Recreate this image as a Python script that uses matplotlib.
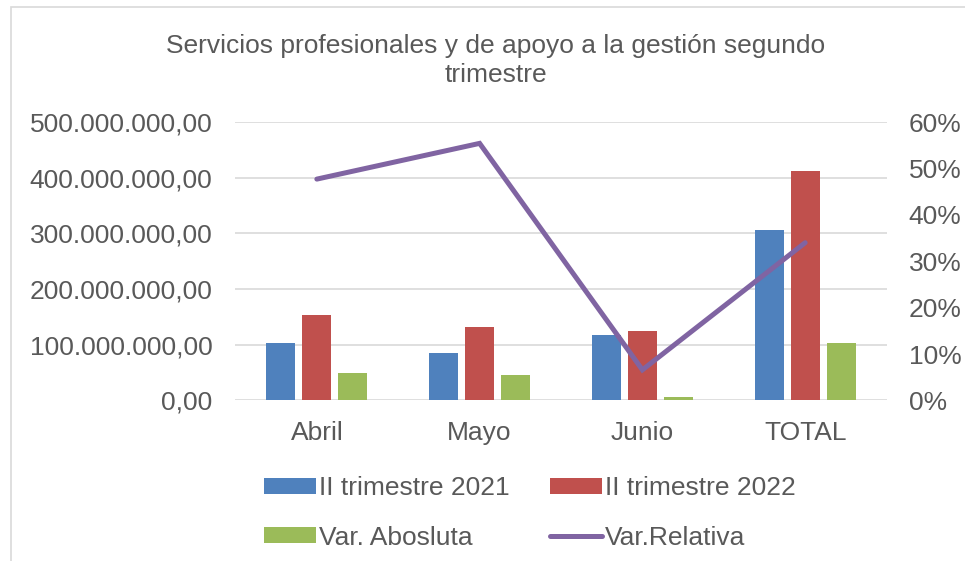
import numpy as np
import matplotlib.pyplot as plt
import matplotlib.ticker as mticker
from matplotlib.patches import Rectangle

plt.rcParams['font.family'] = ['Liberation Sans', 'DejaVu Sans']

# Datos
meses = ['Abril', 'Mayo', 'Junio', 'TOTAL']
trim_2021 = [102.7e6, 84.7e6, 117.0e6, 306.0e6]
trim_2022 = [153.0e6, 132.0e6, 124.8e6, 412.0e6]
var_absoluta = [48.8e6, 46.4e6, 7.0e6, 104.0e6]
var_relativa = [0.477, 0.554, 0.066, 0.340]

c_azul = '#4F81BD'
c_rojo = '#C0504D'
c_verde = '#9BBB59'
c_morado = '#8064A2'
c_texto = '#595959'
c_grid = '#D9D9D9'
tam = 19

fig = plt.figure(figsize=(9.65, 5.61), dpi=100)
ax = fig.add_axes([0.244, 0.2861, 0.6747, 0.4964])
ax2 = ax.twinx()

x = np.arange(len(meses))
ancho = 0.178
paso = 0.221
b1 = ax.bar(x - paso, trim_2021, ancho, color=c_azul, label='II trimestre 2021', zorder=2)
b2 = ax.bar(x, trim_2022, ancho, color=c_rojo, label='II trimestre 2022', zorder=2)
b3 = ax.bar(x + paso, var_absoluta, ancho, color=c_verde, label='Var. Abosluta', zorder=2)
l1, = ax2.plot(x, var_relativa, color=c_morado, linewidth=3.6, label='Var.Relativa',
               solid_capstyle='round', solid_joinstyle='miter')

ax.set_xlim(-0.5, 3.5)
ax.set_ylim(0, 500e6)
ax2.set_ylim(0, 0.6)
ax.yaxis.set_major_locator(mticker.MultipleLocator(100e6))
ax2.yaxis.set_major_locator(mticker.MultipleLocator(0.1))


def fmt_es(v, pos):
    s = f'{v:,.2f}'
    return s.replace(',', 'X').replace('.', ',').replace('X', '.')


ax.yaxis.set_major_formatter(mticker.FuncFormatter(fmt_es))
ax2.yaxis.set_major_formatter(mticker.PercentFormatter(1.0, decimals=0))

ax.set_xticks(x)
ax.set_xticklabels(meses)

for a in (ax, ax2):
    for s in a.spines.values():
        s.set_visible(False)
    a.tick_params(length=0, labelsize=tam, labelcolor=c_texto)
ax.tick_params(axis='y', pad=16.5)
ax2.tick_params(axis='y', pad=16)
ax.tick_params(axis='x', pad=15)

ax.grid(axis='y', color=c_grid, linewidth=1.2, zorder=0)
ax.set_axisbelow(True)
ax.set_zorder(ax2.get_zorder() - 1)
ax.patch.set_visible(False)

fig.text(0.5135, 0.892, 'Servicios profesionales y de apoyo a la gestión segundo\ntrimestre',
         ha='center', va='center', fontsize=tam, color=c_texto, linespacing=1.3)

fig.legend([b1, b3, b2, l1],
           ['II trimestre 2021', 'Var. Abosluta', 'II trimestre 2022', 'Var.Relativa'],
           ncol=2, loc='center', bbox_to_anchor=(0.549, 0.0856), frameon=False,
           fontsize=tam, labelcolor=c_texto, handlelength=1.97, handleheight=0.53,
           handletextpad=0.12, columnspacing=1.5, labelspacing=0.95)

# Borde del grafico
fig.add_artist(Rectangle((11 / 965, -0.05), 1.1, 1.05 - 7 / 561, transform=fig.transFigure,
                         fill=False, edgecolor=c_grid, linewidth=1.2))

fig.savefig('out.png', dpi=100)
